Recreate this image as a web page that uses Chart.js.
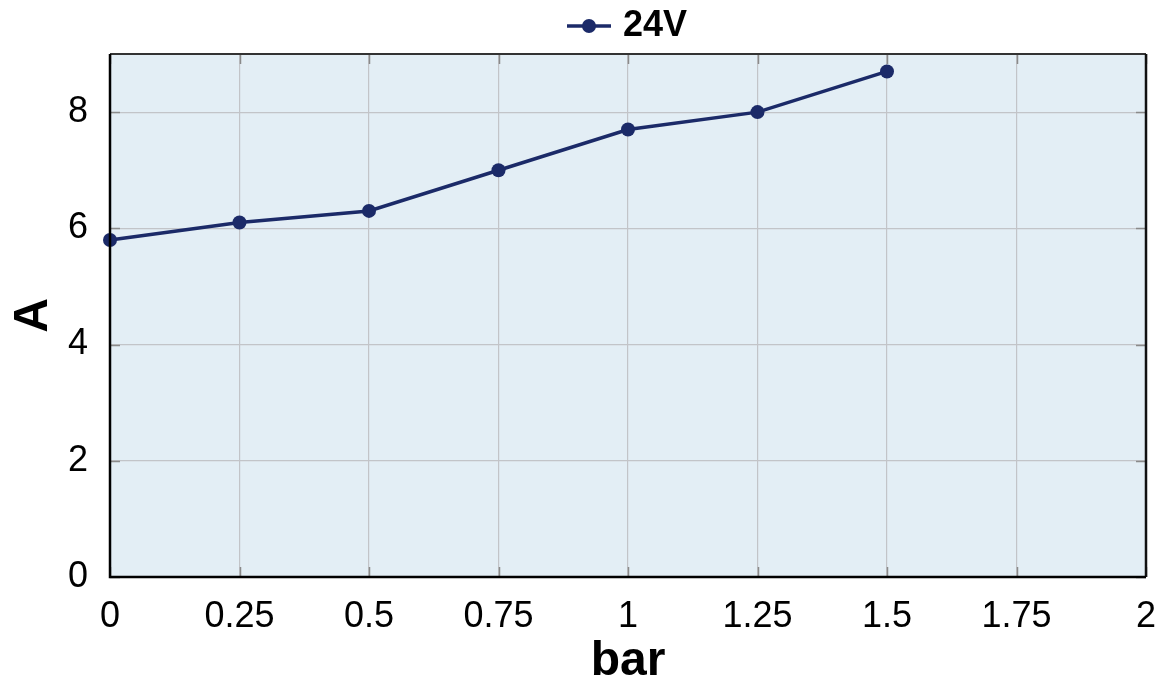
<!DOCTYPE html>
<html><head><meta charset="utf-8">
<script src="https://cdn.jsdelivr.net/npm/chart.js@4/dist/chart.umd.min.js"></script>
<style>html,body{margin:0;padding:0;background:#fff}#wrap{width:1166px;height:686px}</style>
</head><body><div id="wrap"><canvas id="c" width="1166" height="686"></canvas></div>
<script>
const pressureBar = [0, 0.25, 0.5, 0.75, 1, 1.25, 1.5];
const current24V = [5.8, 6.1, 6.3, 7.0, 7.7, 8.0, 8.7];
const xTickValues = [0, 0.25, 0.5, 0.75, 1, 1.25, 1.5, 1.75, 2];
const xTickLabels = ['0', '0.25', '0.5', '0.75', '1', '1.25', '1.5', '1.75', '2'];
const yTickValues = [0, 2, 4, 6, 8];
const yTickLabels = ['0', '2', '4', '6', '8'];
const seriesName = '24V';
const xTitle = 'bar';
const yTitle = 'A';

const FONT = '"Liberation Sans", Arial, Helvetica, sans-serif';
const NAVY = '#1b2a68';

const marker = document.createElement('canvas');
marker.width = 44; marker.height = 18;
(function () {
  const c = marker.getContext('2d');
  c.strokeStyle = NAVY; c.lineWidth = 3.5;
  c.beginPath(); c.moveTo(0, 9); c.lineTo(44, 9); c.stroke();
  c.fillStyle = NAVY;
  c.beginPath(); c.arc(22, 9, 7, 0, Math.PI * 2); c.fill();
})();

const frame = {
  id: 'frame',
  afterInit(chart) {
    const lg = chart.legend;
    if (lg) {
      const origFit = lg.fit.bind(lg);
      lg.fit = function () { origFit(); this.height = 54; };
      const origDraw = lg.draw.bind(lg);
      lg.draw = function () {
        const ctx = this.ctx;
        ctx.save(); ctx.translate(57, 0); origDraw(); ctx.restore();
      };
    }
  },
  beforeDraw(chart) {
    const {ctx, chartArea: a} = chart;
    ctx.save();
    ctx.fillStyle = '#e3eef5';
    ctx.fillRect(a.left, a.top, a.right - a.left, a.bottom - a.top);
    ctx.restore();
  },
  afterDraw(chart) {
    const {ctx, chartArea: a, scales} = chart;
    ctx.save();
    ctx.strokeStyle = '#8a8a8a';
    ctx.lineWidth = 1.5;
    const L = 10;
    scales.x.ticks.forEach(t => {
      const px = Math.round(scales.x.getPixelForValue(t.value)) + 0.5;
      ctx.beginPath(); ctx.moveTo(px, a.bottom); ctx.lineTo(px, a.bottom - L); ctx.stroke();
      ctx.beginPath(); ctx.moveTo(px, a.top); ctx.lineTo(px, a.top + L); ctx.stroke();
    });
    scales.y.ticks.forEach(t => {
      const py = Math.round(scales.y.getPixelForValue(t.value)) + 0.5;
      ctx.beginPath(); ctx.moveTo(a.left, py); ctx.lineTo(a.left + L, py); ctx.stroke();
      ctx.beginPath(); ctx.moveTo(a.right, py); ctx.lineTo(a.right - L, py); ctx.stroke();
    });
    ctx.strokeStyle = '#333';
    ctx.lineWidth = 2;
    ctx.beginPath(); ctx.moveTo(a.left, a.top); ctx.lineTo(a.right, a.top); ctx.stroke();
    ctx.strokeStyle = '#111';
    ctx.lineWidth = 2.5;
    ctx.beginPath(); ctx.moveTo(a.right, a.top); ctx.lineTo(a.right, a.bottom); ctx.stroke();
    ctx.strokeStyle = '#000';
    ctx.lineWidth = 2.5;
    ctx.beginPath(); ctx.moveTo(a.left, a.top); ctx.lineTo(a.left, a.bottom); ctx.lineTo(a.right, a.bottom); ctx.stroke();
    ctx.restore();
  }
};

new Chart(document.getElementById('c'), {
  type: 'line',
  data: {
    datasets: [{
      label: seriesName,
      data: pressureBar.map((x, i) => ({x, y: current24V[i]})),
      borderColor: NAVY,
      backgroundColor: NAVY,
      borderWidth: 3.5,
      pointRadius: 7,
      pointHoverRadius: 7,
      pointBorderWidth: 0,
      tension: 0,
      clip: false
    }]
  },
  options: {
    responsive: false,
    animation: false,
    layout: {padding: {left: 0, right: 20, top: 0, bottom: 0}},
    plugins: {
      tooltip: {enabled: false},
      legend: {
        display: true,
        position: 'top',
        labels: {
          color: '#000',
          font: {family: FONT, size: 36, weight: 'bold'},
          usePointStyle: true,
          pointStyleWidth: 32,
          generateLabels() {
            return [{text: seriesName, fillStyle: NAVY, strokeStyle: NAVY, lineWidth: 0, pointStyle: marker, datasetIndex: 0}];
          },
          padding: 8
        }
      }
    },
    scales: {
      x: {
        type: 'linear',
        min: 0, max: 2,
        afterBuildTicks(s) { s.ticks = xTickValues.map(v => ({value: v})); },
        ticks: {
          color: '#000', font: {family: FONT, size: 36}, padding: 18, maxRotation: 0, autoSkip: false,
          callback(v) { const i = xTickValues.indexOf(v); return i >= 0 ? xTickLabels[i] : ''; }
        },
        grid: {color: '#c2c4c8', lineWidth: 1.2, drawTicks: false},
        border: {display: false},
        title: {display: true, text: xTitle, color: '#000', font: {family: FONT, size: 48, weight: 'bold', lineHeight: 1}, padding: {top: 0, bottom: 0}},
        afterFit(s) { s.height = 109; s.paddingRight = 0; s.paddingLeft = 0; }
      },
      y: {
        min: 0, max: 9,
        afterBuildTicks(s) { s.ticks = yTickValues.map(v => ({value: v})); },
        ticks: {
          color: '#000', font: {family: FONT, size: 36}, padding: 22,
          callback(v) { const i = yTickValues.indexOf(v); return i >= 0 ? yTickLabels[i] : ''; }
        },
        grid: {color: '#c2c4c8', lineWidth: 1.2, drawTicks: false},
        border: {display: false},
        title: {display: true, text: yTitle, color: '#000', font: {family: FONT, size: 48, weight: 'bold', lineHeight: 1.4}, padding: {top: 0, bottom: 0}},
        afterFit(s) { s.width = 110; }
      }
    }
  },
  plugins: [frame]
});
</script>
</body></html>
